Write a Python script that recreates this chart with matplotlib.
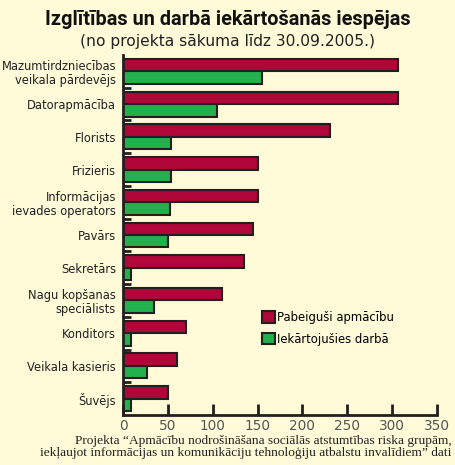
import numpy as np
import matplotlib
matplotlib.use("Agg")
import matplotlib.pyplot as plt
from matplotlib.patches import Patch

categories = ["Mazumtirdzniecības\nveikala pārdevējs", "Datorapmācība", "Florists",
              "Frizieris", "Informācijas\nievades operators", "Pavārs", "Sekretārs",
              "Nagu kopšanas\nspeciālists", "Konditors", "Veikala kasieris", "Šuvējs"]
finished = [306, 306, 231, 150, 150, 145, 135, 110, 70, 60, 50]
employed = [155, 105, 54, 53, 52, 50, 9, 35, 9, 27, 9]
xticks = [0, 50, 100, 150, 200, 250, 300, 350]

RED = "#b0063a"
GREEN = "#22b14c"
EDGE = "#231f20"
BG = "#fffad8"

fig = plt.figure(figsize=(4.55, 4.65), dpi=100, facecolor=BG)
ax = fig.add_axes([0.2703, 0.1075, 0.6901, 0.7742], facecolor=BG)

y = np.arange(len(categories))
h = 0.38
ax.barh(y - h / 2, finished, height=h, color=RED, edgecolor=EDGE, linewidth=1.5)
ax.barh(y + h / 2, employed, height=h, color=GREEN, edgecolor=EDGE, linewidth=1.5)

ax.set_ylim(len(categories) - 0.5, -0.5)
ax.set_xlim(0, 350)

for s in ["top", "right"]:
    ax.spines[s].set_visible(False)
for s in ["left", "bottom"]:
    ax.spines[s].set_linewidth(2)
    ax.spines[s].set_color(EDGE)

ax.set_yticks(y)
ax.set_yticklabels(categories, fontsize=8.3, color="#222222", linespacing=1.1)
ax.set_yticks(np.arange(0.5, len(categories) - 1, 1.0), minor=True)
ax.tick_params(axis="y", which="major", length=0, pad=5)
ax.tick_params(axis="y", which="minor", direction="in", length=6, width=2, color=EDGE)

ax.set_xticks(xticks)
ax.tick_params(axis="x", direction="in", length=8, width=2, color=EDGE,
               labelsize=9.8, labelcolor="#555555", pad=3)

handles = [Patch(facecolor=RED, edgecolor=EDGE, linewidth=1.5, label="Pabeiguši apmācību"),
           Patch(facecolor=GREEN, edgecolor=EDGE, linewidth=1.5, label="Iekārtojušies darbā")]
ax.legend(handles=handles, loc="upper left", bbox_to_anchor=(0.425, 0.305), frameon=False,
          fontsize=8.4, handlelength=1.05, handleheight=1.1, handletextpad=0.25,
          labelspacing=0.75, borderpad=0)

fig.text(0.5, 0.958, "Izglītības un darbā iekārtošanās iespējas", ha="center", va="center",
         fontsize=14.3, fontweight="bold", family=["Roboto", "DejaVu Sans"],
         color="#111111")
fig.text(0.5, 0.91, "(no projekta sākuma līdz 30.09.2005.)", ha="center", va="center",
         fontsize=11.2, color="#222222")

fig.text(0.992, 0.038, "Projekta “Apmācību nodrošināšana sociālās atstumtības riska grupām,\n"
         "iekļaujot informācijas un komunikāciju tehnoloģiju atbalstu invalīdiem” dati",
         ha="right", va="center", fontsize=9.6, family=["Liberation Serif", "DejaVu Serif"],
         color="#222222", linespacing=1.0)

fig.savefig("out.png", dpi=100, facecolor=BG)
